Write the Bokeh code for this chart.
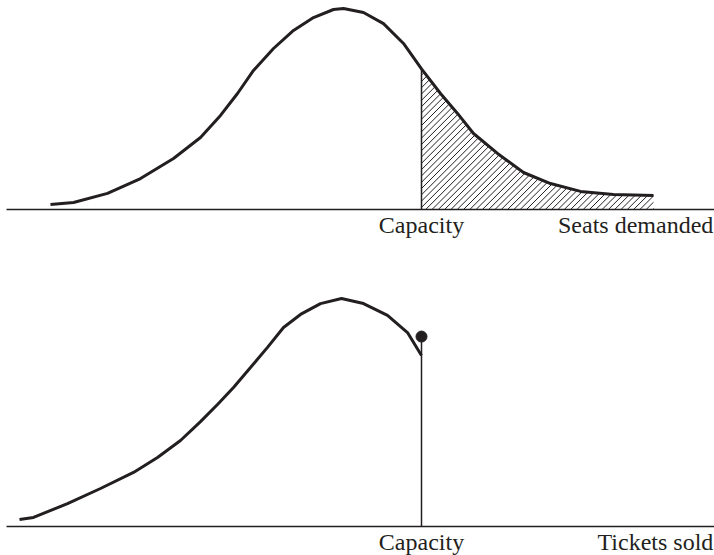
import numpy as np
from bokeh.plotting import figure
from bokeh.models import Range1d
from bokeh.embed import file_html
from bokeh.resources import INLINE
from bokeh.core.properties import value

# ---------------- data ----------------
capacity = 100  # seats

# Top panel: distribution of seats demanded (relative density)
demand_seats = [7.25, 13, 21.5, 29.75, 38, 44.75, 49.75, 54, 58, 63, 68, 73, 78,
                80.5, 85.5, 90.5, 95.5, 100, 104.75, 109, 113, 119, 125.5, 132.25,
                139.75, 148, 158]
demand_density = [0.025, 0.035, 0.08, 0.154, 0.254, 0.358, 0.468, 0.577, 0.692,
                  0.801, 0.891, 0.955, 0.995, 1.0, 0.98, 0.925, 0.826, 0.70,
                  0.577, 0.478, 0.378, 0.279, 0.184, 0.129, 0.09, 0.075, 0.07]

# Bottom panel: distribution of tickets sold (truncated at capacity)
sold_seats = [-0.5, 3, 11.5, 19.75, 28, 34, 39.75, 44.75, 49, 53, 57.25, 61.5,
              65.5, 69.75, 74.75, 80, 85.5, 91.5, 96.5, 100]
sold_density = [0.035, 0.045, 0.114, 0.189, 0.269, 0.343, 0.428, 0.522, 0.607,
                0.692, 0.791, 0.891, 0.99, 1.055, 1.109, 1.134, 1.109, 1.05,
                0.965, 0.851]
sold_at_capacity = 0.945  # point mass at capacity

top_labels = ["Capacity", "Seats demanded"]
bottom_labels = ["Capacity", "Tickets sold"]

# ---------------- layout / style ----------------
INK = "#231f20"
FONT = value("Liberation Serif")
FSIZE = "24px"
W, H = 714, 555
XR = (-5.25, 173.25)           # seats across the canvas (4 px per seat)
YR = (-0.1443, 2.6169)          # density units (201 px per unit)
AX0 = -3.75                     # axis lines start
TOP = 317 / 201                 # vertical offset of the upper panel
LABEL_DROP = 16 / 201           # label baseline below its axis
HATCH_GAP = 6.3                 # px between hatch lines (horizontal)

p = figure(width=W, height=H, x_range=Range1d(*XR), y_range=Range1d(*YR),
           output_backend="svg", toolbar_location=None,
           x_axis_location=None, y_axis_location=None, min_border=0)
p.min_border_left = p.min_border_right = p.min_border_top = p.min_border_bottom = 0
p.grid.visible = False
p.outline_line_color = None
p.background_fill_color = "white"
p.border_fill_color = "white"

px_per_seat = W / (XR[1] - XR[0])
px_per_unit = H / (YR[1] - YR[0])
k = px_per_unit / px_per_seat    # seats moved per density unit on a 45° line

# ---- top panel ----
p.segment(x0=[AX0], y0=[TOP], x1=[XR[1]], y1=[TOP], line_color=INK, line_width=1.3)

# 45° hatching of the tail beyond capacity, clipped by the demand curve
ds = np.array(demand_seats, dtype=float)
dd = np.array(demand_density, dtype=float)
cap_density = float(dd[demand_seats.index(capacity)])
x_end = float(ds[-1])
hx0, hy0, hx1, hy1 = [], [], [], []
for c in np.arange(capacity - cap_density * k, x_end, HATCH_GAP / px_per_seat):
    if c >= capacity:
        xs0, h0 = c, 0.0
    else:
        xs0, h0 = capacity, (capacity - c) / k
    xs = np.linspace(xs0, x_end, 600)
    f = (xs - c) / k - np.interp(xs, ds, dd)
    hit = np.nonzero(f >= 0)[0]
    xe = xs[hit[0]] if len(hit) else x_end
    he = (xe - c) / k
    if xe - xs0 < 1e-6:
        continue
    hx0.append(xs0); hy0.append(h0 + TOP); hx1.append(xe); hy1.append(he + TOP)
p.segment(x0=hx0, y0=hy0, x1=hx1, y1=hy1, line_color=INK, line_width=1)

p.segment(x0=[capacity], y0=[TOP], x1=[capacity], y1=[cap_density + TOP],
          line_color=INK, line_width=1.5)
p.line(demand_seats, [d + TOP for d in demand_density], line_color=INK,
       line_width=3, line_join="round")

p.text(x=[capacity], y=[TOP - LABEL_DROP], text=[top_labels[0]],
       text_align="center", text_baseline="alphabetic", text_font=FONT,
       text_font_size=FSIZE, text_color=INK)
p.text(x=[XR[1] - 0.3], y=[TOP - LABEL_DROP], text=[top_labels[1]],
       text_align="right", text_baseline="alphabetic", text_font=FONT,
       text_font_size=FSIZE, text_color=INK)

# ---- bottom panel ----
p.segment(x0=[AX0], y0=[0], x1=[XR[1]], y1=[0], line_color=INK, line_width=1.3)
p.segment(x0=[capacity], y0=[0], x1=[capacity], y1=[sold_at_capacity],
          line_color=INK, line_width=1.5)
p.line(sold_seats, sold_density, line_color=INK, line_width=3, line_join="round")
p.scatter([capacity], [sold_at_capacity], size=11, fill_color=INK, line_color=INK)

p.text(x=[capacity], y=[-LABEL_DROP], text=[bottom_labels[0]],
       text_align="center", text_baseline="alphabetic", text_font=FONT,
       text_font_size=FSIZE, text_color=INK)
p.text(x=[XR[1] - 0.3], y=[-LABEL_DROP], text=[bottom_labels[1]],
       text_align="right", text_baseline="alphabetic", text_font=FONT,
       text_font_size=FSIZE, text_color=INK)

open("out.html", "w").write(file_html(p, INLINE))
